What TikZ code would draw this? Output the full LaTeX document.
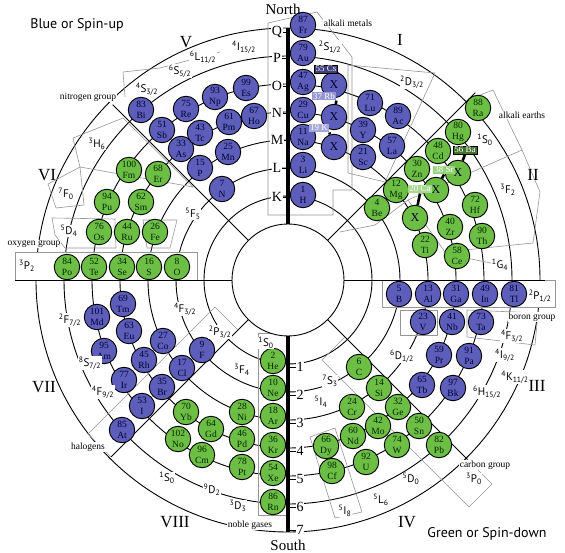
\documentclass[tikz,border=0pt]{standalone}
\usepackage{fontspec}
\setmainfont{Liberation Serif}
\newfontfamily\sansfam{PT Sans}
\usetikzlibrary{calc}
\newcommand{\tsym}[3]{\textsuperscript{#1}#2\textsubscript{#3}}
\definecolor{upblue}{RGB}{92,94,186}
\definecolor{dngreen}{RGB}{108,190,68}
\definecolor{boxgray}{RGB}{150,150,150}

\begin{document}
\begin{tikzpicture}[x=1pt, y=-1pt,
  shell/.style={line width=0.9pt},
  spoke/.style={line width=0.9pt},
  axisbar/.style={line width=4.5pt},
  rim/.style={draw=boxgray, line width=0.6pt},
  spinup/.style={circle, draw=black, line width=0.9pt, fill=upblue,
                 minimum size=25.5pt, inner sep=0pt, align=center,
                 font=\fontsize{9.5}{10.5}\selectfont, text=black!80!blue},
  spindn/.style={spinup, fill=dngreen, text=black!85!green},
  xcirc/.style={spinup, font=\fontsize{12}{13}\selectfont},
  tag/.style={draw=black, line width=0.5pt, inner sep=1.2pt,
              font=\fontsize{9}{9}\selectfont, text=white},
  bond/.style={line width=2.6pt},
  term/.style={font=\sansfam\fontsize{11}{12}\selectfont, fill=white,
               inner sep=0.6pt},
  grp/.style={font=\fontsize{9.5}{10}\selectfont, fill=white, inner sep=0.8pt},
  roman/.style={font=\fontsize{17}{18}\selectfont},
  shlab/.style={font=\fontsize{14}{15}\selectfont, fill=white, inner sep=0.8pt},
  corner/.style={font=\sansfam\fontsize{14}{16}\selectfont},
  tick/.style={line width=0.8pt},
]
\useasboundingbox[fill=white] (0,0) rectangle (565,553);
\coordinate (c) at (288,280);

% ---- shells ----
\foreach \r in {84,112,...,252}
  \draw[shell] (c) circle[radius=\r pt];

% ---- spokes ----
\foreach \a/\rr in {45/265,135/248,225/250,315/254} {
  \coordinate (in\a) at ($(c)+(\a:56pt)$);
  \coordinate (out\a) at ($(c)+(\a:\rr pt)$);
  \draw[spoke] (in\a) -- (out\a);
}

% ---- grey term outlines ----
\draw[rim] (268,23) -- (317,12) -- (352,57) -- (352,190) -- (333,190)
           -- (333,215) -- (268,215) -- cycle;
\draw[rim] (258,333) rectangle (288,515);
\draw[rim] (348,65) -- (435,73) -- (385,182) -- (348,173) -- cycle;
\draw[rim] (467,100) -- (493,90) -- (522,150) -- (408,200) -- (375,225)
           -- (340,232);
\draw[rim] (522,150) -- (540,192) -- (533,243) -- (445,252) -- (408,200);
\draw[rim] (73,138) -- (123,118) -- (193,187) -- (80,167) -- cycle;
\draw[rim] (48,184) -- (80,167) -- (84,205) -- (56,208) -- cycle;
\draw[rim] (125,97) -- (123,72) -- (160,68) -- (220,52);
\draw[rim] (52,218) -- (115,219) -- (116,248) -- (65,248) -- (55,235) -- cycle;
\draw[rim] (143,220) -- (177,220) -- (170,248) -- (147,248) -- cycle;
\draw[rim] (238,330) -- (215,307) -- (88,434) -- (111,457);
\draw[rim] (345,337) -- (322,360) -- (469,507) -- (492,484) -- (468,460);
\draw[rim] (400,310) rectangle (437,335);
\draw[rim] (467,310) -- (538,313) -- (535,345) -- (467,337) -- cycle;
\draw[rim] (310,437) -- (335,518) -- (362,512) -- (335,428) -- cycle;
\draw[rim, fill=white] (15,252) rectangle (197,280);
\draw[rim, fill=white] (382,280) rectangle (555,307);

% ---- axes ----
\coordinate (w0) at (15,280);
\coordinate (e0) at (545,280);
\coordinate (in180) at ($(c)+(180:56pt)$);
\coordinate (in0) at ($(c)+(0:56pt)$);
\draw[spoke] (w0) -- (in180);
\draw[spoke] (in0) -- (e0);
\draw[shell, fill=white] (c) circle[radius=56pt];
\coordinate (ntop) at (288,28);
\coordinate (sbot) at (288,532);
\coordinate (in90) at ($(c)+(90:56pt)$);
\coordinate (in270) at ($(c)+(270:56pt)$);
\draw[axisbar] (ntop) -- (in90);
\draw[axisbar] (in270) -- (sbot);

% ---- spin-up elements ----
\foreach \n/\s/\x/\y in {87/Fr/303/25, 79/Au/303/53, 47/Ag/303/82,
    29/Cu/303/110, 11/Na/303/137, 3/Li/303/165, 1/H/303/195,
    71/Lu/370/103, 39/Y/363/130, 21/Sc/363/157, 89/Ac/398/116, 57/La/392/146,
    83/Bi/141/110, 51/Sb/162/130, 33/As/181/149, 15/P/200/168, 7/N/222/189,
    75/Re/186/109, 43/Tc/200/133, 25/Mn/228/152, 61/Pm/229/122,
    93/Np/215/97, 99/Es/246/88, 67/Ho/254/116,
    9/F/202/350, 17/Cl/182/368, 35/Br/162/387, 53/I/142/406, 85/At/122/430,
    27/Co/163/341, 45/Rh/144/360, 77/Ir/124/380,
    63/Eu/129/331, 95/Am/104/351, 101/Md/97/317, 69/Tm/123/304,
    5/B/399/294, 13/Al/428/294, 31/Ga/456/294, 49/In/485/294, 81/Tl/514/294,
    23/V/423/322, 41/Nb/452/322, 73/Ta/481/322,
    59/Pr/439/355, 91/Pa/469/356, 65/Tb/422/385, 97/Bk/453/388}
  \node[spinup] (e\n) at (\x,\y) {\n\\\s};

% ---- spin-down elements ----
\foreach \n/\s/\x/\y in {2/He/273/361, 10/Ne/273/388, 18/Ar/273/416,
    36/Kr/273/445, 54/Xe/273/473, 86/Rn/273/502,
    88/Ra/478/108, 80/Hg/458/132, 48/Cd/438/151, 30/Zn/417/169,
    12/Mg/396/190, 4/Be/377/208,
    72/Hf/475/205, 40/Zr/450/227, 90/Th/482/236, 22/Ti/425/245, 58/Ce/457/256,
    84/Po/67/267, 52/Te/94/267, 34/Se/122/267, 16/S/149/267, 8/O/177/267,
    76/Os/99/232, 44/Ru/127/232, 26/Fe/155/232,
    94/Pu/107/202, 62/Sm/141/202, 100/Fm/129/170, 68/Er/158/174,
    70/Yb/186/412, 102/No/178/439, 64/Gd/211/429, 96/Cm/202/455,
    28/Ni/242/412, 46/Pd/242/439, 78/Pt/242/467,
    6/C/359/367, 14/Si/379/388, 24/Cr/352/407, 32/Ge/398/407,
    42/Mo/378/426, 50/Sn/419/426, 60/Nd/353/436, 74/W/397/445,
    82/Pb/439/445, 66/Dy/326/446, 92/U/366/462, 98/Cf/332/471}
  \node[spindn] (e\n) at (\x,\y) {\n\\\s};

% ---- unknown slots and their tags ----
\node[xcirc] (x1) at (334,85) {X};
\node[xcirc] (x2) at (334,117) {X};
\node[xcirc] (x3) at (334,147) {X};
\node[xcirc, fill=dngreen] (x4) at (458,173) {X};
\node[xcirc, fill=dngreen] (x5) at (436,190) {X};
\node[xcirc, fill=dngreen] (x6) at (415,218) {X};

\node[tag, fill=upblue!65!black] (tCs) at (326,69) {55 Cs};
\node[tag, draw=none, fill=upblue!65!white] (tRb) at (324,96) {37 Rb};
\node[tag, draw=none, fill=upblue!55!white] (tK) at (319,128) {19 K};
\node[tag, fill=dngreen!60!black] (tBa) at (465,150) {56 Ba};
\node[tag, draw=none, fill=dngreen!70!white] (tSr) at (444,170) {38 Sr};
\node[tag, draw=none, fill=dngreen!60!white] (tCa) at (420,189) {20 Ca};

\draw[bond] (tCs.south east) -- (x1);
\draw[bond] (tRb.south east) -- (x2);
\draw[bond] (tK.south east) -- (x3);
\draw[bond] (tBa.south) -- (x4);
\draw[bond] (tSr.south) -- (x5);
\draw[bond] (tCa.south) -- (x6);

% ---- shell letters and numbers ----
\foreach \s/\yy in {K/197,L/168,M/140,N/113,O/86,P/58,Q/32} {
  \node[shlab] (s\s) at (277,\yy) {\s};
  \draw[tick] (s\s.east) -- (s\s.east -| c);
}
\foreach \k/\yy in {1/367,2/395,3/423,4/451,5/479,6/507,7/530} {
  \node[shlab] (n\k) at (300,\yy) {\k};
  \draw[tick] (n\k.west) -- (n\k.west -| c);
}
\node[font=\fontsize{15}{16}\selectfont, inner sep=0pt] (north) at (283,9) {North};
\node[font=\fontsize{15}{16}\selectfont, inner sep=0pt] (south) at (288,545) {South};

% ---- term symbols ----
\node[term] (tS1)   at (330,47)  {\tsym{2}{S}{1/2}};
\node[term] (tD32)  at (412,82)  {\tsym{2}{D}{3/2}};
\node[term] (tS0a)  at (485,140) {\tsym{1}{S}{0}};
\node[term] (tF2)   at (508,190) {\tsym{3}{F}{2}};
\node[term] (tG4)   at (500,265) {\tsym{1}{G}{4}};
\node[term] (tP12)  at (540,296) {\tsym{2}{P}{1/2}};
\node[term] (tF32r) at (512,336) {\tsym{4}{F}{3/2}};
\node[term] (tD12)  at (402,356) {\tsym{6}{D}{1/2}};
\node[term] (tI92)  at (505,355) {\tsym{4}{I}{9/2}};
\node[term] (tK112) at (515,377) {\tsym{4}{K}{11/2}};
\node[term] (tH152) at (487,392) {\tsym{6}{H}{15/2}};
\node[term] (tP0)   at (474,479) {\tsym{3}{P}{0}};
\node[term] (tD0)   at (411,479) {\tsym{5}{D}{0}};
\node[term] (tL6)   at (381,500) {\tsym{5}{L}{6}};
\node[term] (tI8)   at (345,511) {\tsym{5}{I}{8}};
\node[term] (tI4)   at (321,402) {\tsym{5}{I}{4}};
\node[term] (tS3)   at (330,381) {\tsym{7}{S}{3}};
\node[term] (tS0b)  at (266,343) {\tsym{1}{S}{0}};
\node[term] (tF4)   at (242,370) {\tsym{3}{F}{4}};
\node[term] (tP32)  at (220,332) {\tsym{2}{P}{3/2}};
\node[term] (tF32l) at (185,309) {\tsym{4}{F}{3/2}};
\node[term] (tF72)  at (70,320)  {\tsym{2}{F}{7/2}};
\node[term] (tS72)  at (90,363)  {\tsym{8}{S}{7/2}};
\node[term] (tF92)  at (103,392) {\tsym{4}{F}{9/2}};
\node[term] (tS0c)  at (167,478) {\tsym{1}{S}{0}};
\node[term] (tD2)   at (212,490) {\tsym{9}{D}{2}};
\node[term] (tD3)   at (238,506) {\tsym{3}{D}{3}};
\node[term] (tP2)   at (27,266)  {\tsym{3}{P}{2}};
\node[term] (tD4)   at (69,231)  {\tsym{5}{D}{4}};
\node[term] (tF0)   at (66,194)  {\tsym{7}{F}{0}};
\node[term] (tH6)   at (97,144)  {\tsym{3}{H}{6}};
\node[term] (tF5)   at (193,214) {\tsym{5}{F}{5}};
\node[term] (tS32)  at (147,89)  {\tsym{4}{S}{3/2}};
\node[term] (tS52)  at (180,71)  {\tsym{6}{S}{5/2}};
\node[term] (tL112) at (203,57)  {\tsym{6}{L}{11/2}};
\node[term] (tI152) at (244,47)  {\tsym{4}{I}{15/2}};
\draw[rim] (e58) -- (tG4);

% ---- group names ----
\node[grp] (gAlk)  at (348,23)  {alkali metals};
\node[grp] (gEar)  at (522,115) {alkali earths};
\node[grp] (gNit)  at (88,97)   {nitrogen group};
\node[grp] (gOxy)  at (34,244)  {oxygen group};
\node[grp] (gBor)  at (532,317) {boron group};
\node[grp] (gHal)  at (88,447)  {halogens};
\node[grp] (gNob)  at (250,525) {noble gases};
\node[grp] (gCar)  at (485,465) {carbon group};

% ---- sectors ----
\foreach \t/\x/\y in {I/400/40, II/533/175, III/537/386, IV/407/522,
                      V/186/42, VI/47/175, VII/44/387, VIII/175/522}
  \node[roman] (r\t) at (\x,\y) {\t};

\node[corner] (blue) at (77,25) {Blue or Spin-up};
\node[corner] (green) at (487,534) {Green or Spin-down};
\end{tikzpicture}
\end{document}
